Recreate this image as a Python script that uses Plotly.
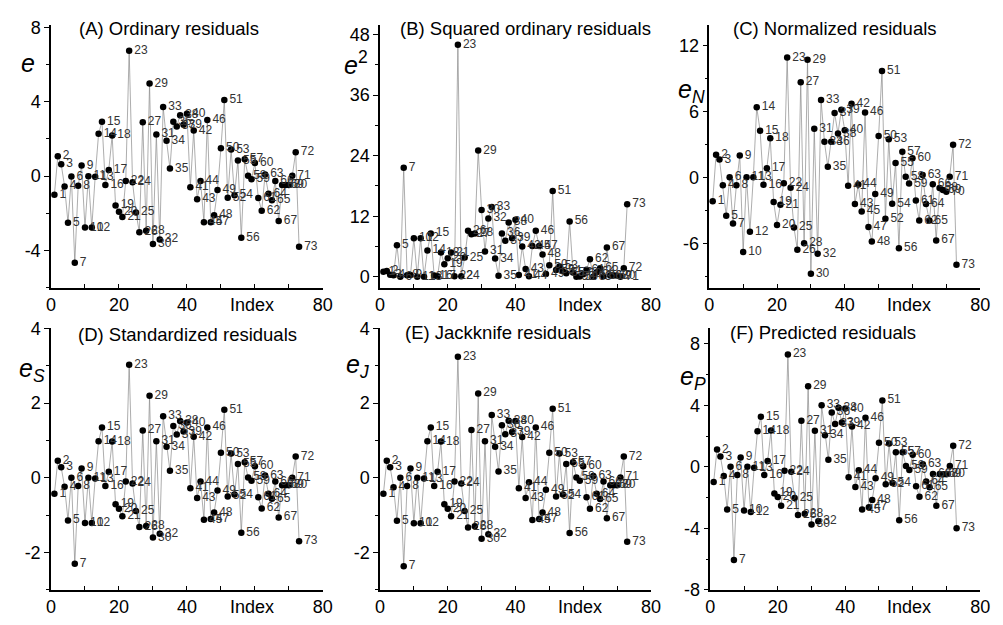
import plotly.graph_objects as go

index = list(range(1, 74))

e_ord = [-1.0, 1.07, 0.64, -0.55, -2.5, -0.02, -4.65, -0.52, 0.57, -2.76,
         0.0, -2.76, -0.03, 2.28, 2.93, -0.48, 0.33, 2.19, -1.57, -1.91,
         -2.19, -0.26, 6.74, -0.33, -1.95, -3.02, 2.9, -2.93, 4.98, -3.64,
         2.24, -3.4, 3.72, 1.9, 0.41, 2.93, 2.67, 3.28, 2.76, 3.36,
         -0.6, 2.45, -1.24, -0.26, -2.47, 3.02, -2.47, -2.1, -0.74, 1.5,
         4.09, -1.16, 1.43, -1.03, 0.84, -3.31, 0.91, 0.02, -0.17, 0.71,
         -1.17, -1.86, 0.09, -0.95, -1.29, -0.26, -2.41, -0.48, -0.48, -0.48,
         0.02, 1.29, -3.79]

e_sq = [1.0, 1.14, 0.41, 0.3, 6.25, 0.0, 21.6, 0.27, 0.32, 7.62,
        0.0, 7.62, 0.0, 5.2, 8.58, 0.23, 0.11, 4.8, 2.46, 3.65,
        4.8, 0.07, 46.0, 0.11, 3.8, 9.12, 8.41, 8.58, 25.0, 13.25,
        5.02, 11.56, 13.84, 3.61, 0.17, 8.58, 7.13, 10.76, 7.62, 11.29,
        0.36, 6.0, 1.54, 0.07, 6.1, 9.12, 6.1, 4.41, 0.55, 2.25,
        17.0, 1.35, 2.04, 1.06, 0.71, 10.96, 0.83, 0.0, 0.03, 0.5,
        1.37, 3.46, 0.01, 0.9, 1.66, 0.07, 5.81, 0.23, 0.23, 0.23,
        0.0, 1.66, 14.36]

e_norm = [-2.14, 2.08, 1.64, -0.68, -3.45, 0.03, -4.17, -0.68, 2.0, -6.76,
          0.03, -4.9, 0.03, 6.4, 4.26, -0.65, 0.86, 3.57, -2.2, -4.3,
          -2.47, -0.5, 10.9, -0.92, -4.52, -6.55, 8.66, -5.95, 10.7, -8.72,
          4.43, -6.9, 7.05, 3.27, 0.98, 3.27, 5.86, 4.0, 6.16, 4.3,
          -0.74, 6.7, -2.4, -0.62, -3.07, 5.92, -4.49, -5.8, -1.49, 3.78,
          9.67, -3.72, 3.48, -2.38, 1.34, -6.4, 2.35, 0.09, -0.54, 1.76,
          -2.08, -3.9, 0.24, -2.4, -3.9, -0.6, -5.7, -0.95, -1.13, -1.28,
          0.09, 2.98, -7.9]

e_std = [-0.43, 0.46, 0.28, -0.24, -1.14, 0.0, -2.3, -0.22, 0.25, -1.21,
         0.0, -1.21, -0.02, 0.98, 1.35, -0.22, 0.16, 0.97, -0.71, -0.83,
         -1.03, -0.1, 3.03, -0.15, -0.89, -1.32, 1.27, -1.29, 2.2, -1.6,
         0.98, -1.5, 1.65, 0.83, 0.19, 1.39, 1.16, 1.52, 1.24, 1.48,
         -0.28, 1.1, -0.54, -0.1, -1.12, 1.35, -1.1, -0.93, -0.34, 0.67,
         1.82, -0.5, 0.65, -0.45, 0.37, -1.47, 0.42, 0.01, -0.08, 0.31,
         -0.52, -0.82, 0.06, -0.43, -0.56, -0.1, -1.06, -0.2, -0.2, -0.2,
         0.0, 0.57, -1.7]

e_jack = [-0.43, 0.46, 0.28, -0.25, -1.15, 0.0, -2.37, -0.22, 0.25, -1.22,
          0.0, -1.22, -0.02, 0.98, 1.35, -0.22, 0.16, 0.97, -0.71, -0.83,
          -1.03, -0.1, 3.24, -0.15, -0.89, -1.33, 1.28, -1.3, 2.26, -1.63,
          0.98, -1.51, 1.68, 0.83, 0.17, 1.41, 1.17, 1.53, 1.23, 1.52,
          -0.28, 1.09, -0.54, -0.12, -1.13, 1.35, -1.1, -0.93, -0.32, 0.67,
          1.85, -0.5, 0.65, -0.45, 0.37, -1.48, 0.42, 0.01, -0.08, 0.31,
          -0.52, -0.83, 0.05, -0.43, -0.57, -0.1, -1.08, -0.2, -0.2, -0.2,
          0.01, 0.57, -1.71]

e_pred = [-0.99, 1.12, 0.67, -0.59, -2.78, 0.0, -6.06, -0.53, 0.61, -2.84,
          0.0, -2.93, -0.06, 2.32, 3.26, -0.53, 0.38, 2.36, -1.73, -1.96,
          -2.53, -0.25, 7.31, -0.32, -2.02, -3.14, 2.99, -3.05, 5.24, -3.75,
          2.34, -3.54, 4.0, 2.06, 0.46, 3.54, 2.78, 3.85, 2.88, 3.79,
          -0.67, 2.63, -1.31, -0.23, -2.78, 3.2, -2.63, -2.15, -0.74, 1.56,
          4.32, -1.14, 1.52, -1.05, 0.95, -3.47, 0.95, 0.06, -0.21, 0.78,
          -1.26, -1.94, 0.17, -0.95, -1.33, -0.46, -2.53, -0.46, -0.48, -0.48,
          0.06, 1.37, -4.0]

x_ticks = [0, 20, 40, 80]
x_ticktext = ["0", "20", "40", "80"]

W, H = 1003, 625
FONT = "Liberation Sans, Arial, sans-serif"


def px(x):
    return x / W


def py(y):
    return 1 - y / H


panels = [
    dict(data=e_ord, xd=(46.7, 322.7), yd=(15, 287), yr=[-6, 8.15],
         major=[-4, 0, 4, 8], minor=2, title="(A) Ordinary residuals",
         tpos=(73, 19), ylab="<i>e</i>", lpos=(23, 55)),
    dict(data=e_sq, xd=(380.7, 655.7), yd=(15, 287), yr=[-2.2, 50],
         major=[0, 12, 24, 36, 48], minor=6, title="(B) Squared ordinary residuals",
         tpos=(399, 19), ylab="<i>e</i><sup>2</sup>", lpos=(356, 55)),
    dict(data=e_norm, xd=(715, 990), yd=(15, 287), yr=[-10, 13.9],
         major=[-6, 0, 6, 12], minor=3, title="(C) Normalized residuals",
         tpos=(737, 19), ylab="<i>e<sub>N</sub></i>", lpos=(697, 84)),
    dict(data=e_std, xd=(46.7, 322.7), yd=(329, 599), yr=[-3, 4],
         major=[-2, 0, 2, 4], minor=1, title="(D) Standardized residuals",
         tpos=(72, 335), ylab="<i>e<sub>S</sub></i>", lpos=(27, 372)),
    dict(data=e_jack, xd=(380.7, 655.7), yd=(329, 599), yr=[-3, 4],
         major=[-2, 0, 2, 4], minor=1, title="(E) Jackknife residuals",
         tpos=(404, 333), ylab="<i>e<sub>J</sub></i>", lpos=(358, 368)),
    dict(data=e_pred, xd=(716, 990), yd=(329, 599), yr=[-8, 9],
         major=[-8, -4, 0, 4, 8], minor=2, title="(F) Predicted residuals",
         tpos=(734, 333), ylab="<i>e<sub>P</sub></i>", lpos=(698, 380)),
]

fig = go.Figure()
annotations = []
layout = {}

for k, p in enumerate(panels, start=1):
    sfx = "" if k == 1 else str(k)
    fig.add_trace(go.Scatter(
        x=index, y=p["data"], xaxis="x" + sfx, yaxis="y" + sfx,
        mode="lines+markers+text",
        line=dict(color="#8a8a8a", width=0.7),
        marker=dict(color="black", size=6.5),
        text=[str(i) for i in index], textposition="middle right",
        textfont=dict(family=FONT, size=12, color="#333333"),
        cliponaxis=False, showlegend=False, hoverinfo="x+y"))
    layout["xaxis" + sfx] = dict(
        domain=[px(p["xd"][0]), px(p["xd"][1])], range=[0, 80],
        anchor="y" + sfx, showline=True, linecolor="black", linewidth=1.5,
        showgrid=False, zeroline=False, tickvals=x_ticks, ticktext=x_ticktext,
        ticks="inside", ticklen=4, tickwidth=1.2, tickcolor="black",
        minor=dict(dtick=10, tick0=0, ticks="inside", ticklen=4,
                   tickwidth=1.2, tickcolor="black"),
        tickfont=dict(family=FONT, size=18, color="black"))
    layout["yaxis" + sfx] = dict(
        domain=[py(p["yd"][1]), py(p["yd"][0])], range=p["yr"],
        anchor="x" + sfx, showline=True, linecolor="black", linewidth=1.5,
        showgrid=False, zeroline=False, tickvals=p["major"],
        ticktext=[str(v) for v in p["major"]],
        ticks="outside", ticklen=5, tickwidth=1.2, tickcolor="black",
        minor=dict(dtick=p["minor"], tick0=0, ticks="outside", ticklen=3,
                   tickwidth=1.2, tickcolor="black"),
        tickfont=dict(family=FONT, size=18, color="black"))
    annotations.append(dict(
        text=p["title"], xref="paper", yref="paper",
        x=px(p["tpos"][0]), y=py(p["tpos"][1]), xanchor="left", yanchor="middle",
        showarrow=False, font=dict(family=FONT, size=18.5, color="black")))
    annotations.append(dict(
        text=p["ylab"], xref="paper", yref="paper",
        x=px(p["lpos"][0]), y=py(p["lpos"][1]), xanchor="center", yanchor="middle",
        showarrow=False, font=dict(family=FONT, size=25, color="black")))
    annotations.append(dict(
        text="Index", xref="x" + sfx, yref="paper", x=59,
        y=py(p["yd"][1] + 18), xanchor="center", yanchor="middle",
        showarrow=False, font=dict(family=FONT, size=18, color="black")))

fig.update_layout(
    width=W, height=H, margin=dict(l=0, r=0, t=0, b=0),
    paper_bgcolor="white", plot_bgcolor="white",
    annotations=annotations, **layout)

fig.write_html(
    "out.html",
    config={"displayModeBar": False},
    post_script="document.body.style.margin='0';"
                "document.body.style.overflow='hidden';")
